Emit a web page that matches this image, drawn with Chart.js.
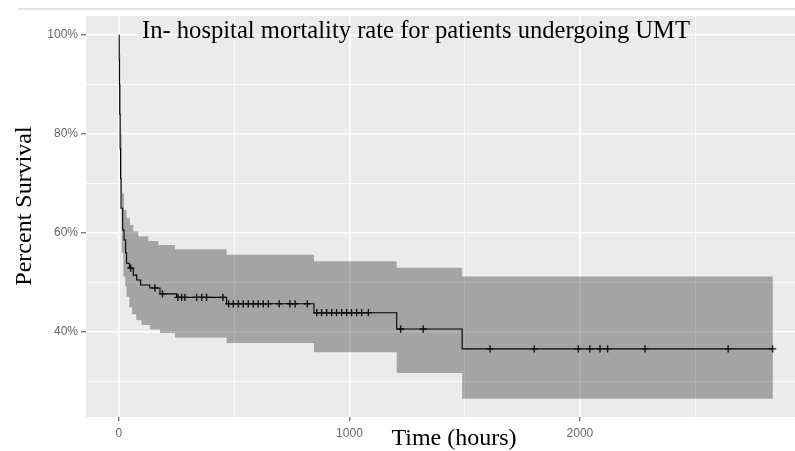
<!DOCTYPE html>
<html>
<head>
<meta charset="utf-8">
<script src="https://cdn.jsdelivr.net/npm/chart.js@4.4.0/dist/chart.umd.min.js"></script>
<style>
  html, body { margin: 0; padding: 0; background: #fff; }
  #wrap { width: 795px; height: 451px; }
</style>
</head>
<body>
<div id="wrap"><canvas id="kmChart" width="795" height="451"></canvas></div>
<script>
// Kaplan-Meier estimate (hours, percent surviving)
const survTimes = [0, 1, 2, 3, 5, 7, 9, 16, 22, 29, 33, 45, 62, 77, 94, 134, 178, 250, 467, 846, 1205, 1489, 2837];
const survPct   = [100, 95, 90, 84, 77, 71, 65, 60.6, 58.6, 56.0, 53.9, 52.9, 51.5, 50.5, 49.5, 48.9, 47.7, 47.0, 45.7, 43.9, 40.6, 36.6, 36.6];

// 95% confidence band
const bandTimes = [0, 2, 4, 6, 9, 12, 19, 22, 27, 33, 45, 48, 57, 62, 75, 84, 98, 127, 134, 171, 178, 243, 467, 846, 1205, 1489, 2837];
const bandUpper = [100, 99, 96, 90, 80, 68.0, 68.0, 64.6, 64.6, 63.0, 63.0, 61.6, 61.6, 60.3, 60.3, 59.3, 59.3, 58.4, 58.4, 57.6, 57.6, 56.7, 55.6, 54.3, 53.0, 51.2, 51.2];
const bandLower = [100, 92, 84, 76, 68, 56, 51.2, 51.2, 49.2, 47.1, 45.0, 45.0, 43.6, 43.6, 42.4, 42.4, 41.4, 41.4, 40.5, 40.5, 39.8, 38.9, 37.8, 35.9, 31.7, 26.5, 26.5];

// censored observations
const censorTimes = [51, 156, 189, 256, 272, 286, 337, 359, 380, 451, 476, 496, 518, 539, 561, 583, 604, 626, 648, 695, 742, 764, 817,
  858, 879, 901, 923, 944, 966, 988, 1009, 1031, 1053, 1082, 1222, 1320, 1610, 1802, 1993, 2043, 2087, 2120, 2282, 2643, 2836];

// grid positions and which of them carry labels
const xGridValues = [0, 500, 1000, 1500, 2000, 2500];
const xTickLabels = [0, 1000, 2000];
const yGridValues = [30, 40, 50, 60, 70, 80, 90, 100];
const yTickLabels = [40, 60, 80, 100];

function survivalAt(t) {
  let v = survPct[0];
  for (let i = 0; i < survTimes.length; i++) {
    if (survTimes[i] <= t) v = survPct[i];
  }
  return v;
}

const toPoints = (xs, ys) => xs.map((x, i) => ({ x: x, y: ys[i] }));

const decor = {
  id: 'decor',
  beforeDraw(chart) {
    const { ctx, chartArea: a } = chart;
    ctx.save();
    ctx.fillStyle = '#ffffff';
    ctx.fillRect(0, 0, chart.width, chart.height);
    ctx.fillStyle = '#ebebeb';
    ctx.fillRect(a.left, a.top, a.right - a.left, a.bottom - a.top);
    ctx.strokeStyle = '#d9d9d9';
    ctx.lineWidth = 1.5;
    ctx.beginPath();
    ctx.moveTo(18, 9);
    ctx.lineTo(chart.width, 9);
    ctx.stroke();
    ctx.restore();
  },
  afterDraw(chart) {
    const ctx = chart.ctx;
    ctx.save();
    ctx.fillStyle = '#000';
    ctx.textAlign = 'center';
    ctx.textBaseline = 'alphabetic';
    ctx.font = '24.6px "Liberation Serif", "Times New Roman", serif';
    ctx.fillText('In- hospital mortality rate for patients undergoing UMT', 416, 38);
    ctx.font = '24px "Liberation Serif", "Times New Roman", serif';
    ctx.fillText('Time (hours)', 454, 445);
    ctx.translate(31, 206);
    ctx.rotate(-Math.PI / 2);
    ctx.fillText('Percent Survival', 0, 0);
    ctx.restore();
  }
};

const tickFont = { family: '"Liberation Sans", Arial, sans-serif', size: 12 };
const isMajorX = c => c.tick && xTickLabels.includes(Math.round(c.tick.value));
const isMajorY = c => c.tick && yTickLabels.includes(Math.round(c.tick.value));

new Chart(document.getElementById('kmChart'), {
  type: 'line',
  data: {
    datasets: [
      {
        label: 'censored',
        data: censorTimes.map(t => ({ x: t, y: survivalAt(t) })),
        showLine: false,
        pointStyle: 'cross',
        pointRadius: 3.6,
        pointBorderWidth: 1.4,
        pointBorderColor: '#111',
        borderColor: '#111',
        pointHoverRadius: 0
      },
      {
        label: 'survival',
        data: toPoints(survTimes, survPct),
        stepped: true,
        borderColor: '#000',
        borderWidth: 1.1,
        pointRadius: 0,
        fill: false
      },
      {
        label: 'upper',
        data: toPoints(bandTimes, bandUpper),
        stepped: true,
        borderColor: 'rgba(0,0,0,0)',
        borderWidth: 1,
        pointRadius: 0,
        fill: '+1',
        backgroundColor: 'rgba(0,0,0,0.3)'
      },
      {
        label: 'lower',
        data: toPoints(bandTimes, bandLower),
        stepped: true,
        borderColor: 'rgba(0,0,0,0)',
        borderWidth: 1,
        pointRadius: 0,
        fill: false
      }
    ]
  },
  options: {
    responsive: false,
    animation: false,
    devicePixelRatio: 1,
    layout: { autoPadding: false, padding: { top: 16, right: 0, left: 0, bottom: 0 } },
    plugins: {
      legend: { display: false },
      tooltip: { enabled: false },
      filler: { propagate: false }
    },
    scales: {
      x: {
        type: 'linear',
        min: -143,
        max: 2933,
        border: { display: false },
        grid: {
          color: '#ffffff',
          lineWidth: c => (isMajorX(c) ? 1.6 : 0.8),
          tickLength: 4,
          tickWidth: 1,
          tickColor: c => (isMajorX(c) ? '#444' : 'rgba(0,0,0,0)')
        },
        ticks: {
          autoSkip: false,
          maxRotation: 0,
          padding: 5,
          color: '#666',
          font: tickFont,
          callback: v => (xTickLabels.includes(Math.round(v)) ? String(Math.round(v)) : '')
        },
        afterBuildTicks: s => { s.ticks = xGridValues.map(v => ({ value: v })); },
        afterFit: s => { s.height = 34; s.paddingLeft = 0; s.paddingRight = 0; }
      },
      y: {
        type: 'linear',
        min: 22.83,
        max: 103.84,
        border: { display: false },
        grid: {
          color: '#ffffff',
          lineWidth: c => (isMajorY(c) ? 1.6 : 0.8),
          tickLength: 5,
          tickWidth: 1,
          tickColor: c => (isMajorY(c) ? '#444' : 'rgba(0,0,0,0)')
        },
        ticks: {
          autoSkip: false,
          padding: 3,
          color: '#666',
          font: tickFont,
          callback: v => (yTickLabels.includes(Math.round(v)) ? Math.round(v) + '%' : '')
        },
        afterBuildTicks: s => { s.ticks = yGridValues.map(v => ({ value: v })); },
        afterFit: s => { s.width = 86; s.paddingTop = 0; s.paddingBottom = 0; }
      }
    }
  },
  plugins: [decor]
});
</script>
</body>
</html>
